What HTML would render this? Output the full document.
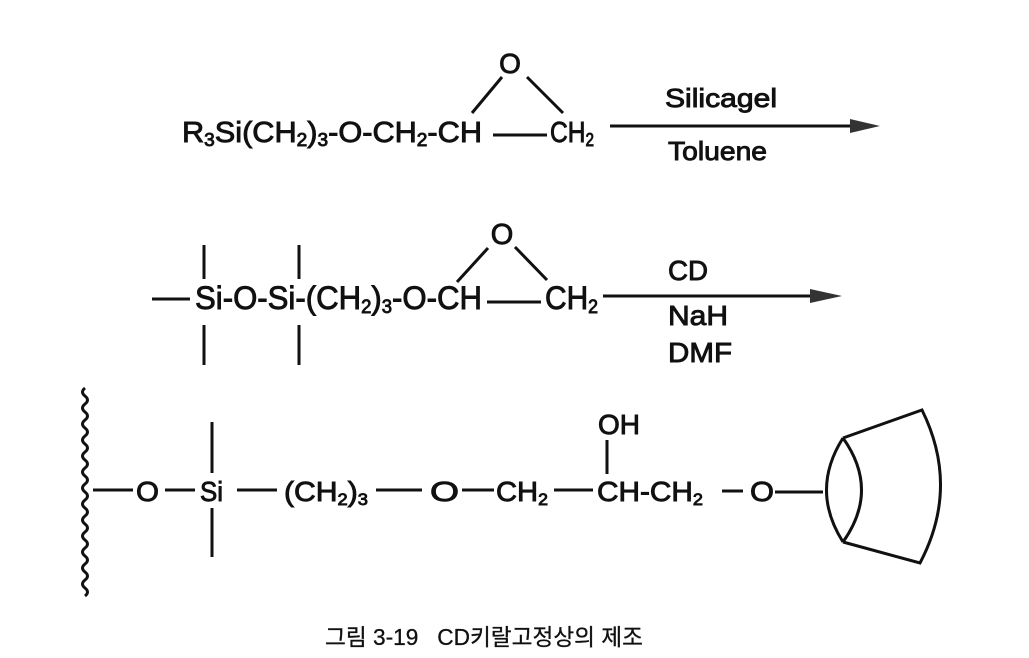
<!DOCTYPE html>
<html><head><meta charset="utf-8"><style>
html,body{margin:0;padding:0;background:#fff;}
svg{display:block;}
text{font-family:"Liberation Sans","Noto Sans CJK KR",sans-serif;fill:#111;stroke:#111;stroke-width:0.9;}
.l{stroke:#111;stroke-width:3;fill:none;stroke-linecap:butt;}
</style></head><body>
<svg width="1029" height="658" viewBox="0 0 1029 658" xmlns="http://www.w3.org/2000/svg">
<!-- Row 1 -->
<text x="182" y="142" font-size="29" textLength="300" lengthAdjust="spacingAndGlyphs">R<tspan font-size="18" dy="4">3</tspan><tspan dy="-4">Si(CH</tspan><tspan font-size="18" dy="4">2</tspan><tspan dy="-4">)</tspan><tspan font-size="18" dy="4">3</tspan><tspan dy="-4">-O-CH</tspan><tspan font-size="18" dy="4">2</tspan><tspan dy="-4">-CH</tspan></text>
<line class="l" x1="493" y1="135" x2="547" y2="135"/>
<text x="550" y="142" font-size="29" textLength="44" lengthAdjust="spacingAndGlyphs">CH<tspan font-size="18" dy="4">2</tspan></text>
<text x="510" y="73" font-size="28" text-anchor="middle">O</text>
<line class="l" x1="502" y1="77" x2="472" y2="113"/>
<line class="l" x1="527" y1="77" x2="563" y2="113"/>
<line class="l" x1="610" y1="126" x2="856" y2="126" stroke-width="2.5"/>
<polygon points="850,119 880,126 850,133" fill="#333"/>
<text x="665" y="107" font-size="26" textLength="112" lengthAdjust="spacingAndGlyphs">Silicagel</text>
<text x="668" y="160" font-size="26" textLength="99" lengthAdjust="spacingAndGlyphs">Toluene</text>

<!-- Row 2 -->
<line class="l" x1="152" y1="299" x2="190" y2="299"/>
<text x="195" y="309" font-size="32" textLength="287" lengthAdjust="spacingAndGlyphs">Si-O-Si-(CH<tspan font-size="19" dy="4">2</tspan><tspan dy="-4">)</tspan><tspan font-size="19" dy="4">3</tspan><tspan dy="-4">-O-CH</tspan></text>
<line class="l" x1="204" y1="245" x2="204" y2="279"/>
<line class="l" x1="204" y1="325" x2="204" y2="365"/>
<line class="l" x1="299" y1="245" x2="299" y2="279"/>
<line class="l" x1="299" y1="325" x2="299" y2="365"/>
<line class="l" x1="487" y1="302" x2="541" y2="302"/>
<text x="545" y="309" font-size="32" textLength="53" lengthAdjust="spacingAndGlyphs">CH<tspan font-size="19" dy="4">2</tspan></text>
<text x="502" y="244" font-size="29" text-anchor="middle">O</text>
<line class="l" x1="488" y1="248" x2="457" y2="282"/>
<line class="l" x1="515" y1="247" x2="547" y2="280"/>
<line class="l" x1="603" y1="296" x2="816" y2="296" stroke-width="2.5"/>
<polygon points="810,289 842,296 810,303" fill="#333"/>
<text x="668" y="280" font-size="28" textLength="40" lengthAdjust="spacingAndGlyphs">CD</text>
<text x="668" y="325" font-size="28" textLength="60" lengthAdjust="spacingAndGlyphs">NaH</text>
<text x="668" y="362" font-size="28" textLength="64" lengthAdjust="spacingAndGlyphs">DMF</text>

<!-- Row 3 -->
<path class="l" d="M85 388 q-5 4 0 8 q5 4 0 8 q-5 4 0 8 q5 4 0 8 q-5 4 0 8 q5 4 0 8 q-5 4 0 8 q5 4 0 8 q-5 4 0 8 q5 4 0 8 q-5 4 0 8 q5 4 0 8 q-5 4 0 8 q5 4 0 8 q-5 4 0 8 q5 4 0 8 q-5 4 0 8 q5 4 0 8 q-5 4 0 8 q5 4 0 8 q-5 4 0 8 q5 4 0 8 q-5 4 0 8 q5 4 0 8 q-5 4 0 8 q5 4 0 8" stroke-width="2.5"/>
<line class="l" x1="93" y1="490" x2="133" y2="490"/>
<text x="136" y="501" font-size="28" textLength="23" lengthAdjust="spacingAndGlyphs">O</text>
<line class="l" x1="165" y1="490" x2="195" y2="490"/>
<text x="200" y="501" font-size="28" textLength="23" lengthAdjust="spacingAndGlyphs">Si</text>
<line class="l" x1="212" y1="422" x2="212" y2="473"/>
<line class="l" x1="212" y1="508" x2="212" y2="557"/>
<line class="l" x1="237" y1="490" x2="277" y2="490"/>
<text x="284" y="501" font-size="28" textLength="84" lengthAdjust="spacingAndGlyphs">(CH<tspan font-size="17" dy="4">2</tspan><tspan dy="-4">)</tspan><tspan font-size="17" dy="4">3</tspan></text>
<line class="l" x1="376" y1="490" x2="422" y2="490"/>
<text x="430" y="501" font-size="28" textLength="29" lengthAdjust="spacingAndGlyphs">O</text>
<line class="l" x1="462" y1="490" x2="494" y2="490"/>
<text x="496" y="501" font-size="28" textLength="52" lengthAdjust="spacingAndGlyphs">CH<tspan font-size="17" dy="4">2</tspan></text>
<line class="l" x1="554" y1="490" x2="593" y2="490"/>
<text x="597" y="501" font-size="28" textLength="106" lengthAdjust="spacingAndGlyphs">CH-CH<tspan font-size="17" dy="4">2</tspan></text>
<text x="598" y="434" font-size="28" textLength="42" lengthAdjust="spacingAndGlyphs">OH</text>
<line class="l" x1="607" y1="440" x2="607" y2="474"/>
<line class="l" x1="722" y1="491" x2="743" y2="491"/>
<text x="750" y="501" font-size="28" textLength="24" lengthAdjust="spacingAndGlyphs">O</text>
<line class="l" x1="775" y1="492" x2="823" y2="492"/>
<!-- cone -->
<path class="l" d="M843 438 Q810 490 843 542"/>
<path class="l" d="M843 438 Q880 490 843 542"/>
<path class="l" d="M843 438 L922 410 Q960 487 920 563 L843 542"/>

<!-- caption -->
<text x="325" y="645" font-size="23" textLength="318" lengthAdjust="spacingAndGlyphs" style="font-family:'Liberation Sans','Noto Sans CJK KR',sans-serif;stroke-width:0.3;white-space:pre" xml:space="preserve">그림 3-19   CD키랄고정상의 제조</text>
</svg>
</body></html>
